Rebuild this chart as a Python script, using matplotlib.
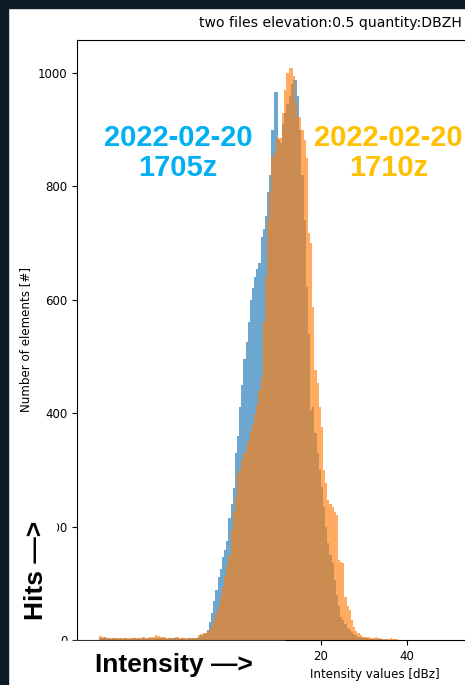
import matplotlib
matplotlib.use("Agg")
import matplotlib.pyplot as plt
from matplotlib.patches import Rectangle
import numpy as np

plt.rcParams["font.family"] = "DejaVu Sans"
plt.rcParams["font.size"] = 8.5

# histogram counts, bins 0.5 dBZ wide starting at -31.5 dBZ
bin_left = -31.5
bin_width = 0.5
counts_1705 = [4, 3, 5, 4, 3, 2, 4, 3, 2, 3, 2, 3, 3, 2, 2, 3, 3, 2, 3, 2,
               3, 2, 3, 3, 2, 3, 3, 4, 3, 3, 3, 2, 3, 3, 3, 4, 3, 2, 3, 3,
               2, 3, 4, 3, 3, 4,
               6, 8, 10, 12, 18, 32, 48, 68, 88, 111, 125, 146, 158, 175,
               215, 240, 268, 330, 360, 411, 450, 495, 525, 560, 600, 620,
               640, 655, 665, 711, 725, 748, 790, 820, 900, 967, 967, 882,
               877, 910, 930, 945, 960, 980, 988, 988, 960, 900, 820, 741,
               623, 540, 405, 410, 365, 330, 300, 270, 235, 200, 171, 150,
               135, 106, 80, 60, 41, 35, 28, 22, 18, 14, 11, 8, 6, 5, 4, 3,
               3, 2, 2, 2, 1, 1, 1, 1, 0, 1, 0, 0, 0, 0, 0]
counts_1710 = [7, 6, 4, 3, 3, 3, 4, 3, 3, 3, 4, 3, 3, 4, 3, 4, 4, 3, 4, 4,
               5, 4, 4, 5, 5, 6, 8, 7, 6, 5, 5, 4, 4, 4, 4, 5, 5, 4, 4, 4,
               3, 3, 4, 4, 3, 4,
               8, 10, 12, 13, 15, 17, 24, 34, 47, 60, 76, 94, 112, 132,
               150, 194, 225, 253, 294, 300, 318, 330, 344, 352, 368, 380,
               398, 415, 440, 464, 560, 640, 741, 790, 852, 860, 885, 885,
               885, 930, 970, 1000, 1009, 1009, 995, 947, 922, 922, 900, 882,
               850, 718, 700, 587, 476, 453, 411, 376, 300, 277, 247, 240,
               235, 225, 220, 141, 138, 136, 76, 60, 53, 35, 23, 15, 12, 8,
               6, 5, 5, 5, 4, 4, 5, 3, 3, 2, 2, 2, 2, 3, 2, 1, 1]
labels = ["2022-02-20\n1705z", "2022-02-20\n1710z"]
x_ticks = [-20, 0, 20, 40, 60, 80, 100]
y_ticks = [0, 200, 400, 600, 800, 1000]

W, H = 465, 685
fig = plt.figure(figsize=(W / 100, H / 100), dpi=100, facecolor="white")
# axes runs past the right edge of the picture (cropped screenshot)
ax = fig.add_axes([77 / W, 1 - 640 / H, 596 / W, 600 / H])

for counts, color in [(counts_1705, "tab:blue"), (counts_1710, "tab:orange")]:
    counts = np.array(counts, dtype=float)
    edges = bin_left + bin_width * np.arange(len(counts) + 1)
    centers = 0.5 * (edges[:-1] + edges[1:])
    ax.hist(centers, bins=edges, weights=counts, color=color, alpha=0.65)

ax.set_xlim(-36.7, 101.9)
ax.set_ylim(0, 1058)
ax.set_xticks(x_ticks)
ax.set_yticks(y_ticks)
ax.set_xlabel("Intensity values [dBz]", fontsize=8.6)
ax.set_ylabel("Number of elements [#]", fontsize=8.6)
fig.text(462 / W, 1 - 23 / H, "two files elevation:0.5 quantity:DBZH",
         ha="right", va="center", fontsize=10.1)


def px(x, y):
    return x / W, 1 - y / H


# pasted-over white boxes and the dark screenshot frame
for (x0, y0, x1, y1) in [(8, 641, 285, 685), (8, 480, 56, 628)]:
    fig.add_artist(Rectangle(px(x0, y1), (x1 - x0) / W, (y1 - y0) / H,
                             transform=fig.transFigure, color="white",
                             zorder=2))
fig.add_artist(Rectangle((0, 0), 8.3 / W, 1, transform=fig.transFigure,
                         color="#0e1a24", zorder=2))
fig.add_artist(Rectangle(px(0, 8), 1, 8 / H, transform=fig.transFigure,
                         color="#0e1a24", zorder=2))

bold = dict(family="Liberation Sans", fontweight="bold", ha="center",
            va="center", zorder=4)
fig.text(*px(178, 153), labels[0], color="#00b0f0", fontsize=21,
         linespacing=1.1, **bold)
fig.text(*px(388.5, 153), labels[1], color="#ffc000", fontsize=21,
         linespacing=1.1, **bold)
fig.text(*px(36, 570), "Hits \u2014>", rotation=90, color="black",
         fontsize=19, **bold)
fig.text(*px(174, 665), "Intensity \u2014>", color="black", fontsize=19,
         **bold)

fig.savefig("out.png", dpi=100)
